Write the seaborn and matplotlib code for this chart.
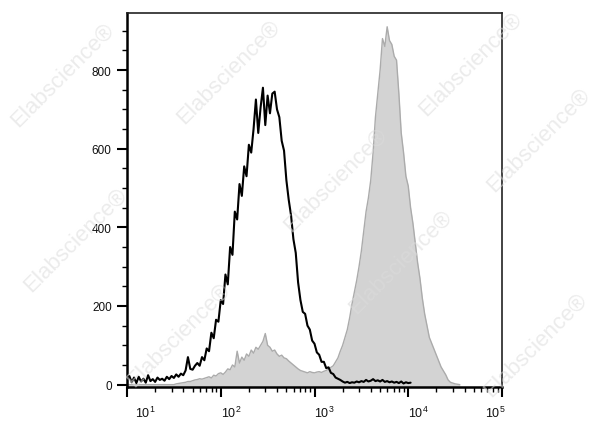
import numpy as np
import matplotlib
matplotlib.use("Agg")
import matplotlib.pyplot as plt
import matplotlib.transforms as mtransforms
from matplotlib.ticker import FixedLocator, LogLocator, NullFormatter, MultipleLocator
import seaborn as sns

# ---- data (log10 channel grid, counts) ----
log_channels = np.linspace(1.0, 4.55, 143)

isotype_counts = [
    10, 22, 6, 18, 4, 20, 8, 15, 5, 24, 9, 14, 7, 18, 12,
    15, 10, 20, 14, 22, 17, 26, 20, 28, 24, 36, 70, 40, 38, 48,
    55, 48, 70, 62, 92, 85, 132, 118, 165, 160,
    215, 205, 280, 255, 350, 330, 440, 420, 510, 480,
    555, 530, 610, 590, 650, 725, 640, 705, 755, 660,
    735, 690, 740, 745, 700, 680, 620, 595, 520, 470,
    430, 370, 335, 260, 215, 185, 180, 150, 140, 112,
    104, 82, 76, 58, 58, 42, 44, 30, 27, 18,
    15, 12, 8, 5, 7, 4, 6, 5, 8, 6,
    9, 7, 12, 8, 10, 14, 9, 11, 8, 12,
    7, 9, 6, 8, 5, 7, 4, 8, 3, 6, 4, 5,
]

stained_counts = [
    0, 0, 0, 0, 0, 0, 0, 0, 0, 0, 0, 0, 0, 0, 0, 0, 0, 0, 0, 0,
    0, 2, 3, 4, 5, 6, 8, 8, 10, 12,
    13, 15, 14, 16, 18, 20, 17, 24, 22, 28,
    30, 26, 32, 40, 38, 50, 45, 85, 55, 70,
    62, 78, 72, 88, 80, 95, 90, 100, 110, 130,
    100, 95, 85, 88, 78, 72, 75, 68, 66, 60,
    55, 50, 45, 40, 36, 34, 32, 30, 33, 31,
    30, 32, 33, 31, 34, 36, 40, 44, 48, 58,
    68, 85, 100, 120, 140, 170, 205, 235, 265, 300,
    340, 390, 440, 475, 520, 590, 680, 740, 800, 880,
    860, 910, 875, 865, 835, 825, 740, 640, 590, 530,
    505, 450, 410, 360, 310, 270, 220, 180, 150, 120,
    105, 90, 75, 60, 45, 35, 25, 12, 6, 4,
    2, 1, 0,
]

y_ticks = [0, 200, 400, 600, 800]
x_ticks = [1e1, 1e2, 1e3, 1e4, 1e5]
x_tick_labels = [r"$10^{1}$", r"$10^{2}$", r"$10^{3}$", r"$10^{4}$", r"$10^{5}$"]

# ---- style ----
sns.set_theme(style="white")
plt.rcParams["font.family"] = ["Liberation Sans", "DejaVu Sans"]
plt.rcParams["mathtext.fontset"] = "custom"
plt.rcParams["mathtext.rm"] = "Liberation Sans"
plt.rcParams["mathtext.it"] = "Liberation Sans"

fig = plt.figure(figsize=(6.0, 4.27), dpi=100)
ax = fig.add_axes([127 / 600, 39 / 427, 375 / 600, 374 / 427])

x_stained = 10 ** log_channels[: len(stained_counts)]
x_iso = 10 ** log_channels[: len(isotype_counts)]

ax.fill_between(x_stained, stained_counts, -6, color="#d3d3d3", linewidth=0, zorder=1)
sns.lineplot(x=x_stained, y=stained_counts, color="#ababab", linewidth=1.0,
             estimator=None, sort=False, ax=ax, zorder=2)
sns.lineplot(x=x_iso, y=isotype_counts, color="black", linewidth=1.5,
             estimator=None, sort=False, ax=ax, zorder=3)

ax.set_xscale("log")
ax.set_xlim(1e1, 1e5)
ax.set_ylim(-6, 945)
ax.set_xlabel("")
ax.set_ylabel("")

ax.set_yticks(y_ticks)
ax.set_yticklabels([str(v) for v in y_ticks], fontsize=8.5, color="#111111")
ax.yaxis.set_minor_locator(MultipleLocator(50))
ax.xaxis.set_major_locator(FixedLocator(x_ticks))
ax.xaxis.set_minor_locator(LogLocator(base=10, subs=np.arange(2, 10)))
ax.xaxis.set_minor_formatter(NullFormatter())
ax.set_xticklabels(x_tick_labels, fontsize=9, color="#111111")

ax.tick_params(axis="both", which="major", direction="out", length=7, width=1.5,
               color="black", left=True, bottom=True)
ax.tick_params(axis="both", which="minor", direction="out", length=3.5, width=1.0,
               color="black", left=True, bottom=True)
ax.tick_params(axis="y", which="major", pad=4)
ax.tick_params(axis="x", which="major", pad=6)

offsets_px = [18, 10, 10, 10, -7]
for lab, dx in zip(ax.get_xticklabels(), offsets_px):
    lab.set_transform(lab.get_transform() +
                      mtransforms.ScaledTranslation(dx / 100, 0, fig.dpi_scale_trans))

for side in ["left", "bottom"]:
    ax.spines[side].set_color("black")
    ax.spines[side].set_linewidth(1.8)
for side in ["top", "right"]:
    ax.spines[side].set_color("#222222")
    ax.spines[side].set_linewidth(1.2)
    ax.spines[side].set_visible(True)

# ---- watermarks ----
wm_centers = [(228, 72), (470, 64), (538, 140), (335, 180),
              (75, 240), (400, 262), (178, 335), (535, 345), (62, 75)]
for cx, cy in wm_centers:
    fig.text(cx / 600, 1 - cy / 427, "Elabscience\u00ae", rotation=45,
             ha="center", va="center", rotation_mode="anchor",
             fontsize=16, color="#dcdcdc", alpha=0.55, zorder=10)

fig.savefig("out.png", dpi=100, facecolor="white")
